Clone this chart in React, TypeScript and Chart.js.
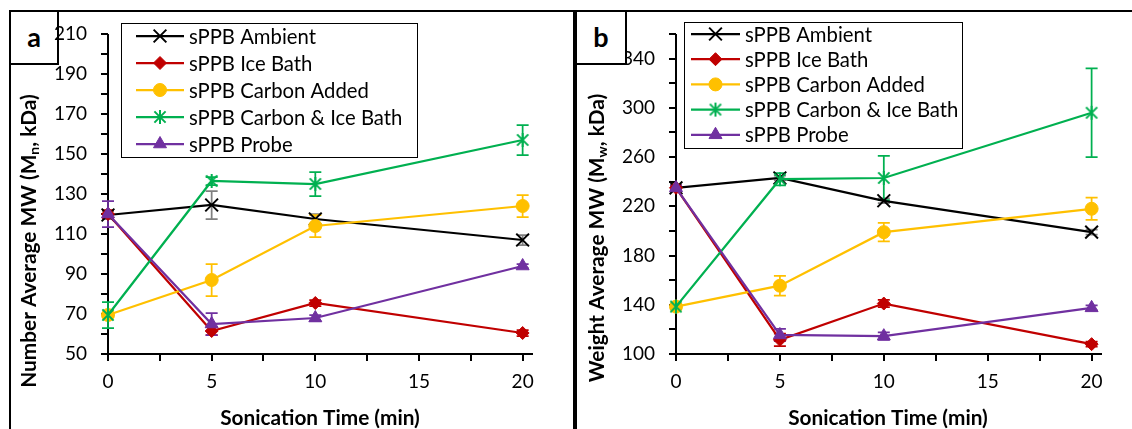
import React, { useEffect, useRef } from 'react';
import { Chart, registerables } from 'chart.js';
import { drawPoint } from 'chart.js/helpers';

Chart.register(...registerables);

const FONT = 'Lato, "Open Sans", sans-serif';

// ---------- data ----------
const timesMin = [0, 5, 10, 20];
const xTickValues = [0, 5, 10, 15, 20];
const xMinorValues = [2.5, 7.5, 12.5, 17.5];
const seriesNames = ['sPPB Ambient', 'sPPB Ice Bath', 'sPPB Carbon Added', 'sPPB Carbon & Ice Bath', 'sPPB Probe'];

// Panel a: number average MW (kDa)
const mnAmbient = [119.5, 124.5, 117.5, 107];
const mnAmbientErr = [2, 7, 2.5, 2.5];
const mnIceBath = [120, 61.5, 75.5, 60.5];
const mnIceBathErr = [2, 2, 1.5, 1.5];
const mnCarbon = [69.5, 87, 114, 124];
const mnCarbonErr = [1, 8, 5.5, 5.5];
const mnCarbonIce = [69.5, 136.5, 135, 157];
const mnCarbonIceErr = [6.5, 2, 6, 7.5];
const mnProbe = [120, 65, 68, 94];
const mnProbeErr = [6.5, 5.5, 1.5, 1];
const mnYTicks = [50, 70, 90, 110, 130, 150, 170, 190, 210];
const mnYMinor = [60, 80, 100, 120, 140, 160, 180, 200];

// Panel b: weight average MW (kDa)
const mwAmbient = [235, 243, 224.5, 199];
const mwAmbientErr = [2, 2, 2, 2];
const mwIceBath = [235, 111.5, 141, 108];
const mwIceBathErr = [2, 5, 3, 2];
const mwCarbon = [138.5, 155.5, 199, 218];
const mwCarbonErr = [2, 8, 7.5, 9];
const mwCarbonIce = [138.5, 242, 243, 296];
const mwCarbonIceErr = [2, 5, 18, 36];
const mwProbe = [235, 115.5, 114.5, 137.5];
const mwProbeErr = [2, 5, 3, 2];
const mwYTicks = [100, 140, 180, 220, 260, 300, 340];
const mwYMinor = [120, 160, 200, 240, 280, 320, 360];

const xTitle = 'Sonication Time (min)';
const mnTitle = ['Number Average MW (M', 'n', ', kDa)'];
const mwTitle = ['Weight Average MW (M', 'w', ', kDa)'];

// ---------- styles ----------
const lineColors = ['#000000', '#C00000', '#FFC000', '#00B050', '#7030A0'];
const errColors = ['#808080', '#C00000', '#FFC000', '#00B050', '#7030A0'];
const markerRadius = [9, 6.5, 6.5, 7, 7.5];
const markerBorder = [2, 1, 1, 0, 1];

const TICK_SIZE = 19;
const LEGEND_SIZE = 20.3;
const TITLE_SIZE = 20.8;

function makeAsterisk(color: string, r: number) {
  const c = document.createElement('canvas');
  const s = Math.ceil(r * 2 + 4);
  c.width = s;
  c.height = s;
  const g = c.getContext('2d')!;
  g.strokeStyle = color;
  g.lineWidth = 2;
  const m = s / 2;
  const d = r * 0.8;
  g.beginPath();
  g.moveTo(m - d, m - d); g.lineTo(m + d, m + d);
  g.moveTo(m + d, m - d); g.lineTo(m - d, m + d);
  g.moveTo(m, m - r); g.lineTo(m, m + r);
  g.stroke();
  return c;
}

type Panel = {
  values: number[][];
  errors: number[][];
  yMin: number; yMax: number;
  yTicks: number[]; yMinor: number[];
  yTitle: string[];
  width: number;
  area: { left: number; right: number; top: number; bottom: number };
  yTitlePos: { x: number; y: number };
  xTitlePos: { x: number; y: number };
  legend: { x1: number; y1: number; x2: number; y2: number; lineX1: number; lineX2: number; textX: number; rowY: number; rowGap: number };
};

const HEIGHT = 429;

const panelA: Panel = {
  values: [mnAmbient, mnIceBath, mnCarbon, mnCarbonIce, mnProbe],
  errors: [mnAmbientErr, mnIceBathErr, mnCarbonErr, mnCarbonIceErr, mnProbeErr],
  yMin: 50, yMax: 210, yTicks: mnYTicks, yMinor: mnYMinor, yTitle: mnTitle,
  width: 575,
  area: { left: 108, right: 533, top: 34, bottom: 354 },
  yTitlePos: { x: 29, y: 241 },
  xTitlePos: { x: 320, y: 418 },
  legend: { x1: 121, y1: 23, x2: 417, y2: 157, lineX1: 136, lineX2: 184, textX: 189, rowY: 36, rowGap: 27 },
};

const panelB: Panel = {
  values: [mwAmbient, mwIceBath, mwCarbon, mwCarbonIce, mwProbe],
  errors: [mwAmbientErr, mwIceBathErr, mwCarbonErr, mwCarbonIceErr, mwProbeErr],
  yMin: 100, yMax: 360, yTicks: mwYTicks, yMinor: mwYMinor, yTitle: mwTitle,
  width: 557,
  area: { left: 101, right: 527, top: 34, bottom: 354 },
  yTitlePos: { x: 22, y: 238 },
  xTitlePos: { x: 313, y: 418 },
  legend: { x1: 109, y1: 22, x2: 387, y2: 148, lineX1: 116, lineX2: 165, textX: 170, rowY: 34, rowGap: 25.2 },
};

function buildChart(canvas: HTMLCanvasElement, p: Panel) {
  const asterisk = makeAsterisk(lineColors[3], markerRadius[3]);
  const styles: any[] = ['crossRot', 'rectRot', 'circle', asterisk, 'triangle'];

  const decor = {
    id: 'decor',
    beforeDatasetsDraw(chart: any) {
      const ctx = chart.ctx;
      const xs = chart.scales.x;
      const ys = chart.scales.y;
      const { left, right, top, bottom } = chart.chartArea;
      ctx.save();
      ctx.strokeStyle = '#000';
      ctx.lineWidth = 2;
      ctx.beginPath();
      ctx.moveTo(left, top);
      ctx.lineTo(left, bottom);
      ctx.moveTo(left, bottom);
      ctx.lineTo(right, bottom);
      [...p.yTicks, ...p.yMinor].forEach((v) => {
        const y = Math.round(ys.getPixelForValue(v));
        ctx.moveTo(left - 7, y);
        ctx.lineTo(left, y);
      });
      [...xTickValues, ...xMinorValues].forEach((v) => {
        const x = Math.round(xs.getPixelForValue(v));
        ctx.moveTo(x, bottom);
        ctx.lineTo(x, bottom + 7);
      });
      ctx.stroke();

      // error bars
      p.values.forEach((vals, i) => {
        ctx.strokeStyle = errColors[i];
        ctx.lineWidth = 1.75;
        ctx.beginPath();
        vals.forEach((v, j) => {
          const e = p.errors[i][j];
          const x = xs.getPixelForValue(timesMin[j]);
          const y1 = ys.getPixelForValue(v + e);
          const y2 = ys.getPixelForValue(v - e);
          ctx.moveTo(x, y1); ctx.lineTo(x, y2);
          ctx.moveTo(x - 6, y1); ctx.lineTo(x + 6, y1);
          ctx.moveTo(x - 6, y2); ctx.lineTo(x + 6, y2);
        });
        ctx.stroke();
      });
      ctx.restore();
    },
    afterDraw(chart: any) {
      const ctx = chart.ctx;
      ctx.save();
      // legend
      const L = p.legend;
      ctx.fillStyle = '#fff';
      ctx.fillRect(L.x1, L.y1, L.x2 - L.x1, L.y2 - L.y1);
      ctx.strokeStyle = '#000';
      ctx.lineWidth = 1;
      ctx.strokeRect(L.x1 + 0.5, L.y1 + 0.5, L.x2 - L.x1, L.y2 - L.y1);
      seriesNames.forEach((name, i) => {
        const y = L.rowY + i * L.rowGap;
        ctx.strokeStyle = lineColors[i];
        ctx.fillStyle = lineColors[i];
        ctx.lineWidth = 2.25;
        ctx.beginPath();
        ctx.moveTo(L.lineX1, y);
        ctx.lineTo(L.lineX2, y);
        ctx.stroke();
        ctx.lineWidth = markerBorder[i] || 1;
        drawPoint(ctx, { pointStyle: styles[i], rotation: 0, radius: markerRadius[i], borderWidth: markerBorder[i] } as any, (L.lineX1 + L.lineX2) / 2, y);
        ctx.fillStyle = '#000';
        ctx.font = `${LEGEND_SIZE}px ${FONT}`;
        ctx.textAlign = 'left';
        ctx.textBaseline = 'middle';
        ctx.fillText(name, L.textX, y + 1);
      });

      // x title
      ctx.fillStyle = '#000';
      ctx.font = `bold ${TITLE_SIZE}px ${FONT}`;
      ctx.textAlign = 'center';
      ctx.textBaseline = 'middle';
      ctx.fillText(xTitle, p.xTitlePos.x, p.xTitlePos.y);

      // y title with subscript
      const mainFont = `bold ${TITLE_SIZE}px ${FONT}`;
      const subFont = `bold ${Math.round(TITLE_SIZE * 0.66)}px ${FONT}`;
      ctx.font = mainFont;
      const w0 = ctx.measureText(p.yTitle[0]).width;
      const w2 = ctx.measureText(p.yTitle[2]).width;
      ctx.font = subFont;
      const w1 = ctx.measureText(p.yTitle[1]).width;
      const total = w0 + w1 + w2;
      ctx.translate(p.yTitlePos.x, p.yTitlePos.y);
      ctx.rotate(-Math.PI / 2);
      ctx.textAlign = 'left';
      let cx = -total / 2;
      ctx.font = mainFont;
      ctx.fillText(p.yTitle[0], cx, 0);
      cx += w0;
      ctx.font = subFont;
      ctx.fillText(p.yTitle[1], cx, 5);
      cx += w1;
      ctx.font = mainFont;
      ctx.fillText(p.yTitle[2], cx, 0);
      ctx.restore();
    },
  };

  return new Chart(canvas, {
    type: 'line',
    data: {
      datasets: seriesNames.map((name, i) => ({
        label: name,
        data: timesMin.map((t, j) => ({ x: t, y: p.values[i][j] })),
        borderColor: lineColors[i],
        backgroundColor: lineColors[i],
        pointBackgroundColor: lineColors[i],
        pointBorderColor: lineColors[i],
        pointStyle: styles[i],
        pointRadius: markerRadius[i],
        pointBorderWidth: markerBorder[i],
        borderWidth: 2.25,
        tension: 0,
        clip: false as any,
        order: seriesNames.length - i,
      })),
    },
    options: {
      responsive: false,
      animation: false,
      events: [],
      layout: { padding: { left: 0, top: p.area.top, right: p.width - p.area.right, bottom: 0 } },
      plugins: { legend: { display: false }, tooltip: { enabled: false } },
      scales: {
        x: {
          type: 'linear',
          min: 0,
          max: 20.5,
          grid: { display: false, drawTicks: false },
          border: { display: false },
          afterBuildTicks: (s: any) => { s.ticks = xTickValues.map((v) => ({ value: v })); },
          afterFit: (s: any) => { s.height = HEIGHT - p.area.bottom; },
          ticks: { padding: 16, font: { family: FONT, size: TICK_SIZE }, color: '#000', maxRotation: 0, autoSkip: false },
        },
        y: {
          type: 'linear',
          min: p.yMin,
          max: p.yMax,
          grid: { display: false, drawTicks: false },
          border: { display: false },
          afterBuildTicks: (s: any) => { s.ticks = p.yTicks.map((v) => ({ value: v })); },
          afterFit: (s: any) => { s.width = p.area.left; },
          ticks: { padding: 21, font: { family: FONT, size: TICK_SIZE }, color: '#000', autoSkip: false },
        },
      },
    } as any,
    plugins: [decor],
  });
}

export default function App() {
  const refA = useRef<HTMLCanvasElement>(null);
  const refB = useRef<HTMLCanvasElement>(null);

  useEffect(() => {
    const a = buildChart(refA.current!, panelA);
    const b = buildChart(refB.current!, panelB);
    return () => { a.destroy(); b.destroy(); };
  }, []);

  const abs = (s: React.CSSProperties): React.CSSProperties => ({ position: 'absolute', boxSizing: 'border-box', ...s });
  const labelStyle: React.CSSProperties = {
    background: '#fff', border: '2px solid #000', display: 'flex', alignItems: 'center', justifyContent: 'center',
    fontFamily: FONT, fontWeight: 700, fontSize: 27, color: '#000', paddingBottom: 2,
  };

  return (
    <div style={{ position: 'fixed', left: 0, top: 0, width: 1132, height: HEIGHT, background: '#fff', overflow: 'hidden' }}>
      <div style={abs({ left: 9, top: 10, width: 566, height: 460, border: '2px solid #000' })} />
      <div style={abs({ left: 575, top: 10, width: 600, height: 460, border: '2px solid #000' })} />
      <div style={abs({ left: 9, top: 10, width: 50, height: 55, ...labelStyle })}>a</div>
      <canvas ref={refA} width={575} height={HEIGHT} style={{ position: 'absolute', left: 0, top: 0 }} />
      <canvas ref={refB} width={557} height={HEIGHT} style={{ position: 'absolute', left: 575, top: 0 }} />
      <div style={abs({ left: 575, top: 10, width: 52, height: 55, ...labelStyle })}>b</div>
    </div>
  );
}
